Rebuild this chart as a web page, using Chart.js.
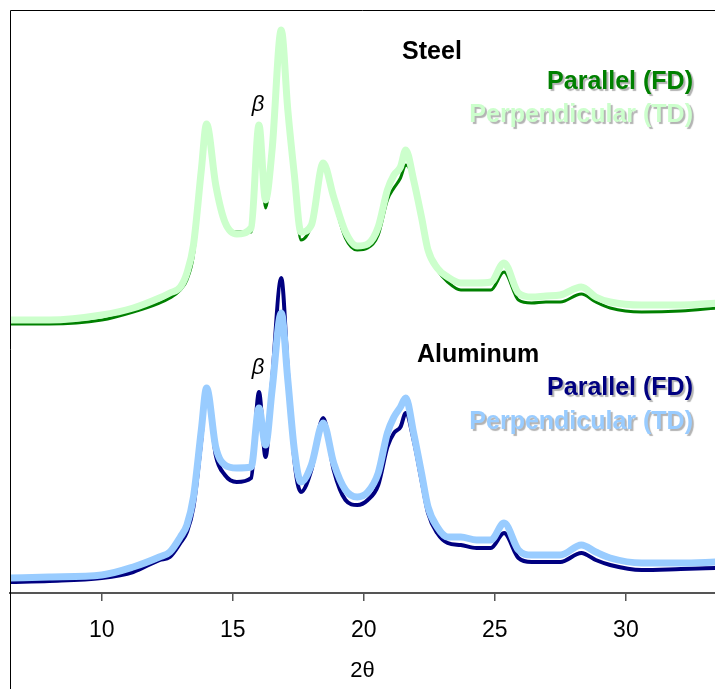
<!DOCTYPE html>
<html>
<head>
<meta charset="utf-8">
<script src="https://cdn.jsdelivr.net/npm/chart.js@4.4.0/dist/chart.umd.min.js"></script>
<style>
  body { margin: 0; background: #fff; }
  #wrap { width: 715px; height: 689px; position: relative; }
</style>
</head>
<body>
<div id="wrap"><canvas id="xrd"></canvas></div>
<script>
// 2-theta positions (degrees)
const twoTheta = [6.5, 8, 10, 11.2, 12.2, 12.6, 13, 13.25, 13.5, 13.8, 14.0, 14.35, 14.7, 15.15, 15.7, 16.0, 16.25, 16.5, 16.85, 17.1,
  17.35, 17.6, 18.0, 18.45, 18.85, 19.3, 19.75, 20.15, 20.55, 20.9, 21.15, 21.4, 21.6, 21.9, 22.2, 22.45, 22.8, 23.2, 23.7, 24.3,
  24.85, 25.35, 25.9, 26.4, 26.95, 27.5, 28.3, 28.85, 29.4, 30.6, 32.1, 33.5];

// intensities (arbitrary units, stacked: steel patterns offset above aluminum)
const steelFD = [269, 269, 273, 281, 290, 295, 303, 313, 338, 413, 469, 413, 368, 361, 361, 465, 385, 438, 563, 483,
  413, 353, 368, 425, 393, 355, 343, 345, 358, 393, 405, 415, 428, 413, 373, 341, 323, 311, 303, 303,
  303, 321, 293, 290, 291, 291, 299, 291, 285, 281, 282, 285];
const steelTD = [273, 273, 278, 285, 295, 300, 306, 320, 348, 423, 469, 408, 371, 359, 365, 468, 393, 443, 563, 483,
  418, 361, 368, 430, 396, 361, 347, 349, 366, 403, 418, 426, 443, 413, 376, 343, 325, 316, 310, 310,
  311, 330, 300, 296, 297, 298, 306, 296, 291, 288, 288, 290];
const aluFD = [11, 12, 15, 21, 33, 36, 50, 61, 86, 153, 206, 138, 118, 111, 115, 201, 136, 213, 315, 223,
  133, 101, 123, 175, 123, 93, 88, 93, 108, 146, 160, 166, 180, 153, 113, 80, 60, 50, 48, 45,
  45, 60, 35, 31, 31, 31, 40, 33, 28, 23, 24, 25];
const aluTD = [15, 16, 18, 26, 36, 41, 56, 68, 96, 163, 205, 146, 128, 125, 126, 185, 148, 203, 280, 213,
  143, 111, 128, 170, 130, 103, 96, 101, 120, 160, 176, 186, 195, 160, 120, 86, 66, 56, 56, 53,
  53, 70, 43, 38, 38, 38, 48, 41, 35, 30, 30, 31];

const xTicks = [10, 15, 20, 25, 30];

const colors = {
  steelFD: '#008000',
  steelTD: '#ccffcc',
  aluFD: '#000080',
  aluTD: '#99ccff',
};

const points = vals => twoTheta.map((x, i) => ({ x, y: vals[i] }));

const line = (label, vals, color, width, order) => ({
  label,
  data: points(vals),
  borderColor: color,
  backgroundColor: color,
  borderWidth: width,
  pointRadius: 0,
  cubicInterpolationMode: 'monotone',
  fill: false,
  order,
});

// text notes placed in data coordinates
const notes = [
  { text: 'Steel', x: 21.46, y: 541, color: '#000', align: 'left', shadow: false },
  { text: 'Parallel (FD)', x: 32.56, y: 511, color: colors.steelFD, align: 'right', shadow: true },
  { text: 'Perpendicular (TD)', x: 32.56, y: 478, color: colors.steelTD, align: 'right', shadow: true },
  { text: 'Aluminum', x: 22.03, y: 238, color: '#000', align: 'left', shadow: false },
  { text: 'Parallel (FD)', x: 32.56, y: 205, color: colors.aluFD, align: 'right', shadow: true },
  { text: 'Perpendicular (TD)', x: 32.56, y: 171, color: colors.aluTD, align: 'right', shadow: true },
];
const betaMarks = [{ x: 15.96, y: 488 }, { x: 15.96, y: 225 }];

const notesPlugin = {
  id: 'notes',
  afterDatasetsDraw(chart) {
    const { ctx, scales: { x, y }, chartArea } = chart;
    ctx.save();
    // frame lines on the left and top
    ctx.strokeStyle = '#000';
    ctx.lineWidth = 1;
    ctx.beginPath();
    ctx.moveTo(chartArea.left + 0.5, chart.height);
    ctx.lineTo(chartArea.left + 0.5, chartArea.top + 0.5);
    ctx.lineTo(chartArea.right, chartArea.top + 0.5);
    ctx.stroke();

    ctx.textBaseline = 'middle';
    ctx.font = 'bold 25px "Liberation Sans", Arial, sans-serif';
    notes.forEach(n => {
      ctx.textAlign = n.align;
      if (n.shadow) {
        ctx.shadowColor = 'rgba(0,0,0,0.3)';
        ctx.shadowOffsetX = 2;
        ctx.shadowOffsetY = 2;
        ctx.shadowBlur = 1;
      } else {
        ctx.shadowColor = 'transparent';
      }
      ctx.fillStyle = n.color;
      ctx.fillText(n.text, x.getPixelForValue(n.x), y.getPixelForValue(n.y));
    });
    ctx.shadowColor = 'transparent';
    ctx.font = 'italic 22px "Liberation Sans", Arial, sans-serif';
    ctx.textAlign = 'center';
    ctx.fillStyle = '#000';
    betaMarks.forEach(b => ctx.fillText('β', x.getPixelForValue(b.x), y.getPixelForValue(b.y)));
    ctx.restore();
  },
};

new Chart(document.getElementById('xrd'), {
  type: 'line',
  data: {
    datasets: [
      line('Steel Perpendicular (TD)', steelTD, colors.steelTD, 7, 1),
      line('Steel Parallel (FD)', steelFD, colors.steelFD, 3, 2),
      line('Aluminum Perpendicular (TD)', aluTD, colors.aluTD, 7, 3),
      line('Aluminum Parallel (FD)', aluFD, colors.aluFD, 4, 4),
    ],
  },
  options: {
    responsive: true,
    maintainAspectRatio: false,
    animation: false,
    layout: { padding: { left: 10, top: 10, right: 0, bottom: 0 } },
    plugins: {
      legend: { display: false },
      tooltip: { enabled: false },
    },
    scales: {
      x: {
        type: 'linear',
        min: 6.5,
        max: 33.4,
        afterBuildTicks: scale => { scale.ticks = xTicks.map(v => ({ value: v })); },
        afterFit: scale => { scale.height = 96; },
        grid: {
          drawOnChartArea: false,
          drawTicks: true,
          tickLength: 8,
          color: '#555',
          lineWidth: 1.5,
        },
        border: { display: true, color: '#555', width: 2 },
        ticks: {
          color: '#000',
          padding: 16,
          font: { family: '"Liberation Sans", Arial, sans-serif', size: 23 },
        },
        title: {
          display: true,
          text: '2θ',
          color: '#000',
          padding: { top: 0, bottom: 5 },
          font: { family: '"Liberation Sans", Arial, sans-serif', size: 22 },
        },
      },
      y: {
        display: false,
        min: 0,
        max: 583,
      },
    },
  },
  plugins: [notesPlugin],
});
</script>
</body>
</html>
